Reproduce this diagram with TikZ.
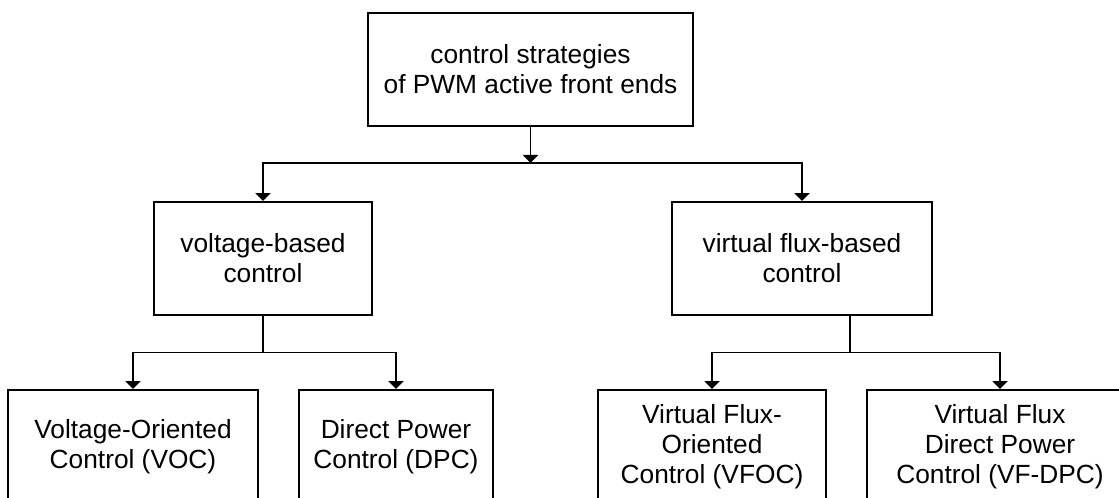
\documentclass[tikz,border=0pt]{standalone}
\usepackage{fontspec}
\setmainfont{Liberation Sans}
\usetikzlibrary{arrows.meta}
\tikzset{
  block/.style={draw, line width=1.4pt, align=center, inner sep=0pt,
    minimum height=2.825cm, font=\fontsize{18.7}{21.3}\selectfont},
  wire/.style={line width=1.4pt},
  arr/.style={wire, -{Triangle[width=0.375cm,length=0.2cm]}}
}

\begin{document}
\begin{tikzpicture}
\clip (0,0) rectangle (27.975,12.45); % page frame, bottom row runs off it
\node[block, minimum width=8.125cm] (root) at (13.2625,10.7125) {control strategies\\of PWM active front ends};
\node[block, minimum width=5.45cm] (volt) at (6.575,5.9875) {voltage-based\\control};
\node[block, minimum width=6.5cm] (flux) at (20.05,5.9875) {virtual flux-based\\control};
\node[block, minimum width=6.25cm] (voc) at (3.325,1.2875) {Voltage-Oriented\\Control (VOC)};
\node[block, minimum width=4.85cm] (dpc) at (9.9,1.2875) {Direct Power\\Control (DPC)};
\node[block, minimum width=5.7cm] (vfoc) at (17.8,1.2875) {Virtual Flux-\\Oriented\\Control (VFOC)};
\node[block, minimum width=6.65cm] (vfdpc) at (25,1.2875) {Virtual Flux\\Direct Power\\Control (VF-DPC)};
% branch points
\coordinate (j1) at (13.2625,8.375);
\coordinate (j2) at (6.575,3.6375);
\coordinate (j3) at (21.25,3.6375);
% top level
\draw[arr] (root) -- (j1);
\draw[arr] (j1) -| (volt);
\draw[arr] (j1) -| (flux);
% voltage branch
\draw[wire] (volt) -- (j2);
\draw[arr] (j2) -| (voc);
\draw[arr] (j2) -| (dpc);
% flux branch
\draw[wire] (j3 |- flux.south) -- (j3);
\draw[arr] (j3) -| (vfoc);
\draw[arr] (j3) -| (vfdpc);
\end{tikzpicture}
\end{document}
